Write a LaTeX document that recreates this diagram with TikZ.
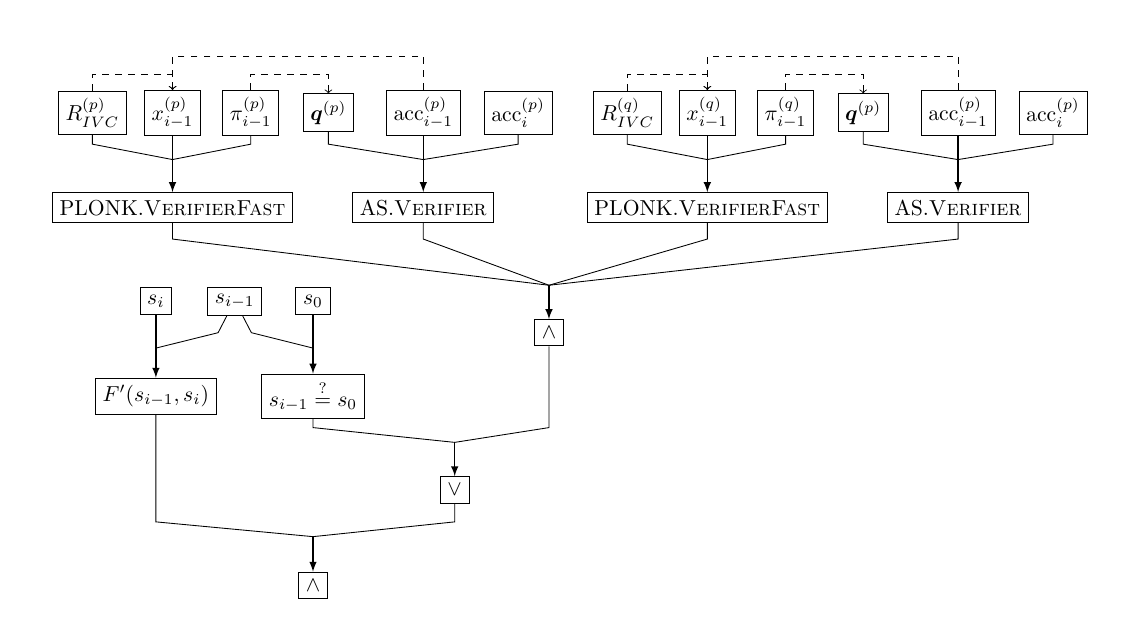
\documentclass[tikz,border=0pt]{standalone}
\usepackage{amsmath}
\usepackage{amssymb}
\usepackage{tikz}
\usetikzlibrary{calc}

\begin{document}
\begin{tikzpicture}[
    box/.style=
    {draw, thin, inner sep=3.3pt}, arrowline/.style=
    {-latex, semithick},
    dashline/.style= {dashed, ->}]
    \useasboundingbox (0,0) rectangle (18.6,-10);
    \foreach \g/\u/\dx in {1/p/0, 2/q/8.68} {
      \begin{scope}[xshift=\dx cm]
        \node (R\g) [box] at (1.50,-1.83) {$R^{(\u)}_{IVC}$};
        \node (x\g) [box] at (2.80,-1.83) {$x^{(\u)}_{i-1}$};
        \node (pi\g) [box] at (4.07,-1.83) {$\pi^{(\u)}_{i-1}$};
        \node (q\g) [box] at (5.33,-1.83) {$\boldsymbol{q}^{(p)}$};
        \node (accold\g) [box] at (6.87,-1.83) {$\mathrm{acc}^{(p)}_{i-1}$};
        \node (acc\g) [box] at (8.41,-1.83) {$\mathrm{acc}^{(p)}_{i}$};
        \node (plonk\g) [box] at (2.80,-3.37) {PLONK.\textsc{VerifierFast}};
        \node (as\g) [box] at (6.87,-3.37) {AS.\textsc{Verifier}};
        \coordinate (j\g) at (2.80,-2.59);
        \coordinate (k\g) at (6.87,-2.59);
        \foreach \n in {R,pi}
            \draw (\n\g.south) -- (\n\g.south |- 0,-2.34) -- (j\g);
        \foreach \n in {q,acc}
            \draw (\n\g.south) -- (\n\g.south |- 0,-2.34) -- (k\g);
        \draw[arrowline] (x\g) -- (plonk\g);
        \draw[arrowline] (accold\g) -- (as\g);
        \draw[dashline] (R\g.north) -- (R\g.north |- 0,-1.21) -| (x\g.north);
        \draw[dashline] (accold\g.north) -- (accold\g.north |- 0,-0.91) -| (x\g.north);
        \draw[dashline] (pi\g.north) -- (pi\g.north |- 0,-1.21) -| (q\g.north);
      \end{scope}
    }
    \node (and1) [box] at (8.91,-5.40) {$\wedge$};
    \coordinate (top) at (8.91,-4.63);
    \foreach \n in {plonk1,as1,plonk2,as2}
        \draw (\n.south) -- (\n.south |- 0,-3.88) -- (top);
    \draw[arrowline] (top) -- (and1);
    \node (si) [box] at (2.53,-4.89) {$s_i$};
    \node (sprev) [box] at (3.81,-4.89) {$s_{i-1}$};
    \node (szero) [box] at (5.08,-4.89) {$s_0$};
    \node (F) [box] at (2.53,-6.43) {$F'(s_{i-1},s_i)$};
    \node (eq) [box] at (5.08,-6.43) {$s_{i-1}\stackrel{?}{=}s_0$};
    \coordinate (jf) at (2.53,-5.65);
    \coordinate (je) at (5.08,-5.65);
    \draw[arrowline] (si) -- (F);
    \draw[arrowline] (szero) -- (eq);
    \draw ($(sprev.south)+(-0.13,0)$) -- ++(-0.14,-0.27) -- (jf);
    \draw ($(sprev.south)+(0.13,0)$) -- ++(0.14,-0.27) -- (je);
    \node (or) [box] at (7.38,-7.95) {$\vee$};
    \coordinate (jo) at (7.38,-7.18);
    \draw (eq.south) -- (eq.south |- 0,-6.94) -- (jo);
    \draw (and1.south) -- (and1.south |- 0,-6.94) -- (jo);
    \draw[arrowline] (jo) -- (or);
    \node (and2) [box] at (5.08,-9.50) {$\wedge$};
    \coordinate (ja) at (5.08,-8.71);
    \draw (F.south) -- (F.south |- 0,-8.47) -- (ja);
    \draw (or.south) -- (or.south |- 0,-8.47) -- (ja);
    \draw[arrowline] (ja) -- (and2);
\end{tikzpicture}
\end{document}
